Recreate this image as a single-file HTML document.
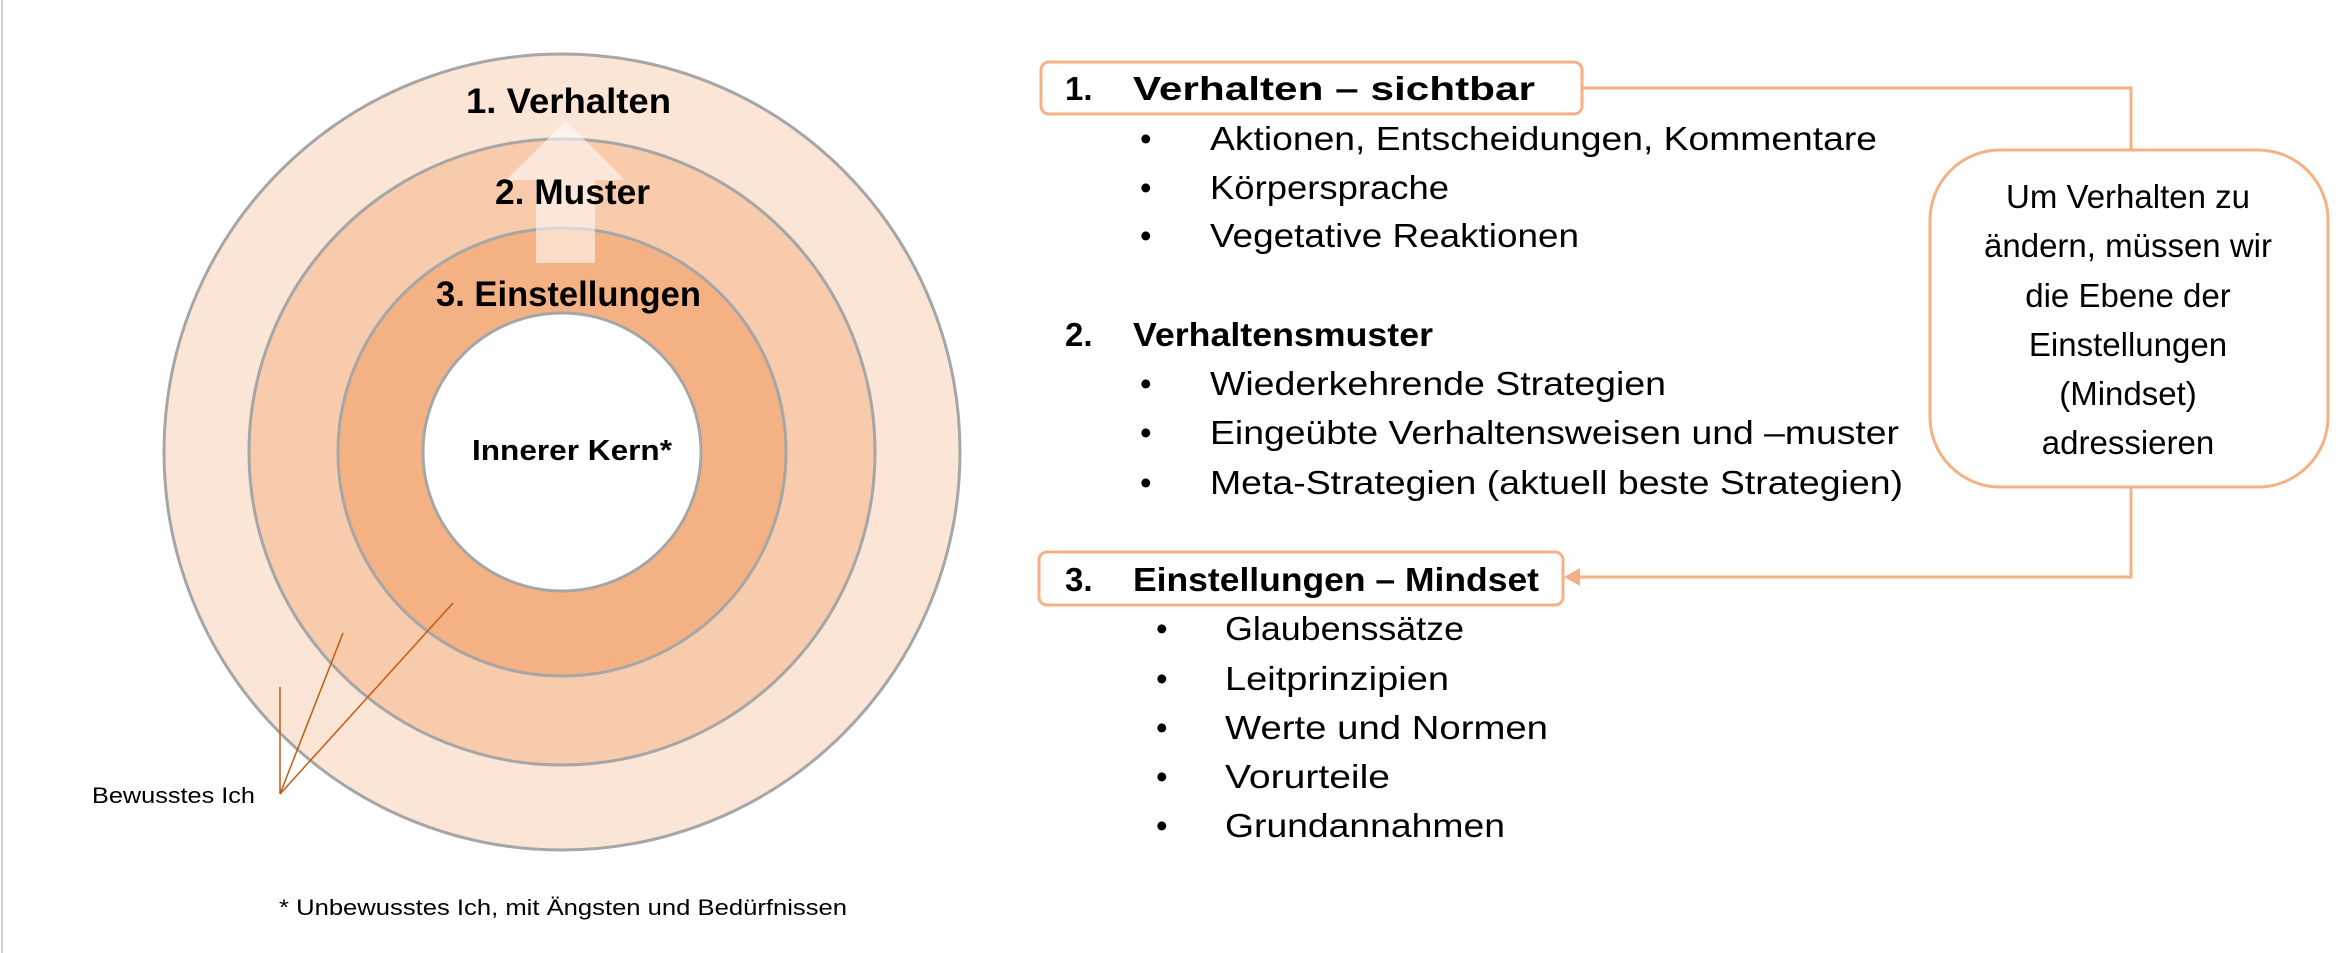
<!DOCTYPE html>
<html><head><meta charset="utf-8"><style>html,body{margin:0;padding:0;background:#fff;}svg{display:block}</style></head>
<body>
<svg width="2352" height="953" viewBox="0 0 2352 953" xmlns="http://www.w3.org/2000/svg" font-family="Liberation Sans, sans-serif">
<line x1="2" y1="0" x2="2" y2="953" stroke="#d0d0d0" stroke-width="2"/>
<g stroke="#A6A6A6" stroke-width="3">
<circle cx="562" cy="452" r="398" fill="#FBE5D6"/>
<circle cx="562" cy="452" r="313" fill="#F8CBAD"/>
<circle cx="562" cy="452" r="224" fill="#F4B183"/>
<circle cx="562" cy="452" r="139" fill="#FFFFFF"/>
</g>
<polygon points="536,263 536,180 506,180 566,121 625,180 595,180 595,263" fill="#ffffff" fill-opacity="0.55"/>
<g font-weight="bold" fill="#000">
<text x="466" y="113" font-size="35" textLength="205" lengthAdjust="spacingAndGlyphs">1. Verhalten</text>
<text x="495" y="204" font-size="35" textLength="155" lengthAdjust="spacingAndGlyphs">2. Muster</text>
<text x="436" y="306" font-size="35" textLength="265" lengthAdjust="spacingAndGlyphs">3. Einstellungen</text>
<text x="472" y="460" font-size="29" textLength="200" lengthAdjust="spacingAndGlyphs">Innerer Kern*</text>
</g>
<g stroke="#C55A11" stroke-width="1.5" fill="none">
<polyline points="280,687 280,794 343,633"/>
<line x1="280" y1="794" x2="453" y2="603"/>
</g>
<text x="92" y="803" font-size="22" textLength="163" lengthAdjust="spacingAndGlyphs">Bewusstes Ich</text>
<text x="279" y="915" font-size="22" textLength="568" lengthAdjust="spacingAndGlyphs">* Unbewusstes Ich, mit Ängsten und Bedürfnissen</text>

<g fill="none" stroke="#F4B183" stroke-width="3">
<rect x="1041" y="62" width="541" height="52" rx="8" fill="#fff"/>
<rect x="1039" y="552" width="524" height="53" rx="8" fill="#fff"/>
<rect x="1930" y="150" width="398" height="337" rx="70" fill="#fff"/>
<polyline points="1582,88 2131,88 2131,150"/>
<polyline points="2131,487 2131,577 1575,577"/>
</g>
<polygon points="1564,577 1580,568 1580,586" fill="#F4B183"/>

<g font-size="33" fill="#000">
<g font-weight="bold">
<text x="1065" y="100">1.</text>
<text x="1133" y="100" textLength="402" lengthAdjust="spacingAndGlyphs">Verhalten – sichtbar</text>
<text x="1065" y="346">2.</text>
<text x="1133" y="346" textLength="300" lengthAdjust="spacingAndGlyphs">Verhaltensmuster</text>
<text x="1065" y="591">3.</text>
<text x="1133" y="591" textLength="406" lengthAdjust="spacingAndGlyphs">Einstellungen – Mindset</text>
</g>
<g>
<text x="1140" y="150">•</text><text x="1210" y="150" textLength="667" lengthAdjust="spacingAndGlyphs">Aktionen, Entscheidungen, Kommentare</text>
<text x="1140" y="199">•</text><text x="1210" y="199" textLength="239" lengthAdjust="spacingAndGlyphs">Körpersprache</text>
<text x="1140" y="247">•</text><text x="1210" y="247" textLength="369" lengthAdjust="spacingAndGlyphs">Vegetative Reaktionen</text>
<text x="1140" y="395">•</text><text x="1210" y="395" textLength="456" lengthAdjust="spacingAndGlyphs">Wiederkehrende Strategien</text>
<text x="1140" y="444">•</text><text x="1210" y="444" textLength="689" lengthAdjust="spacingAndGlyphs">Eingeübte Verhaltensweisen und –muster</text>
<text x="1140" y="494">•</text><text x="1210" y="494" textLength="693" lengthAdjust="spacingAndGlyphs">Meta-Strategien (aktuell beste Strategien)</text>
<text x="1156" y="640">•</text><text x="1225" y="640" textLength="239" lengthAdjust="spacingAndGlyphs">Glaubenssätze</text>
<text x="1156" y="690">•</text><text x="1225" y="690" textLength="224" lengthAdjust="spacingAndGlyphs">Leitprinzipien</text>
<text x="1156" y="739">•</text><text x="1225" y="739" textLength="323" lengthAdjust="spacingAndGlyphs">Werte und Normen</text>
<text x="1156" y="788">•</text><text x="1225" y="788" textLength="165" lengthAdjust="spacingAndGlyphs">Vorurteile</text>
<text x="1156" y="837">•</text><text x="1225" y="837" textLength="280" lengthAdjust="spacingAndGlyphs">Grundannahmen</text>
</g>
<g text-anchor="middle">
<text x="2128" y="208">Um Verhalten zu</text>
<text x="2128" y="257">ändern, müssen wir</text>
<text x="2128" y="307">die Ebene der</text>
<text x="2128" y="356">Einstellungen</text>
<text x="2128" y="405">(Mindset)</text>
<text x="2128" y="454">adressieren</text>
</g>
</g>
</svg>
</body></html>
